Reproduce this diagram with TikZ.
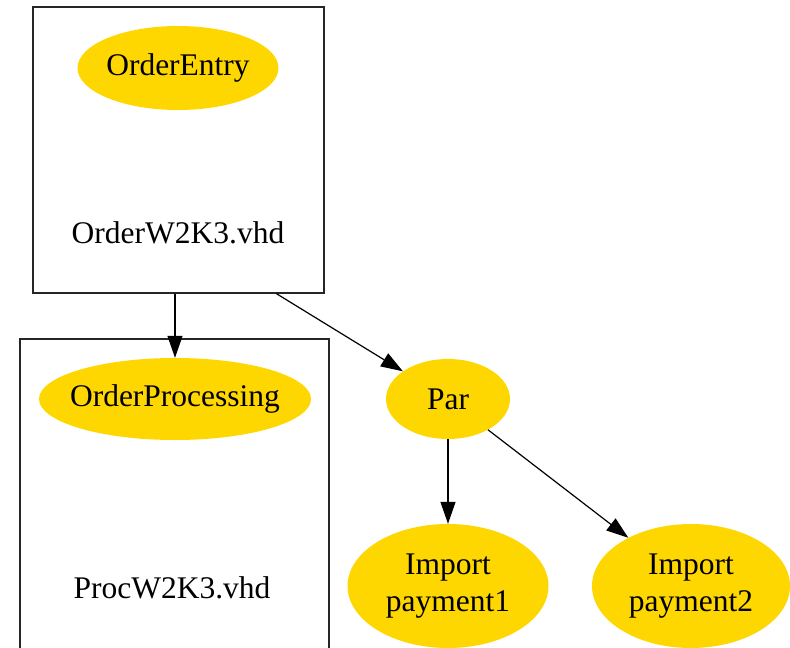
\documentclass[tikz,border=0pt]{standalone}
\usepackage{fontspec}
\setmainfont{Liberation Serif}
\usetikzlibrary{arrows.meta,shapes.geometric,calc}
\definecolor{gold}{HTML}{FFD700}
\begin{document}
\begin{tikzpicture}[x=1pt,y=-1pt,
  cluster/.style={draw=black!85,line width=1.3pt,inner sep=0pt,rectangle},
  task/.style={ellipse,fill=gold,inner xsep=-40pt,inner ysep=0pt,font=\fontsize{31.5}{37}\selectfont,align=center},
  lbl/.style={font=\fontsize{31.5}{37}\selectfont,anchor=base,inner sep=0pt},
  link/.style={line width=1.2pt,-{Triangle[length=22pt,width=15pt]}}]

\clip (0,0) rectangle (790,648);
\fill[white] (0,0) rectangle (790,648);

% clusters
\node[cluster,minimum width=291pt,minimum height=286pt] (box1) at (178.5,150) {};
\node[cluster,minimum width=309pt,minimum height=341pt] (box2) at (174.5,509.5) {};

% cluster labels
\node[lbl] (lbl1) at (178,243) {OrderW2K3.vhd};
\node[lbl] (lbl2) at (172,598) {ProcW2K3.vhd};

% tasks
\node[task,minimum width=201pt,minimum height=84pt] (entry) at (178,68) {OrderEntry};
\node[task,minimum width=272pt,minimum height=82pt] (proc) at (175,399) {OrderProcessing};
\node[task,minimum width=124pt,minimum height=80pt] (par) at (448,399) {Par};
\node[task,minimum width=201pt,minimum height=124pt] (pay1) at (448,586) {Import\\payment1};
\node[task,minimum width=198pt,minimum height=124pt] (pay2) at (691,586) {Import\\payment2};

% connectors
\coordinate (out1) at ($(box1.south west)!0.835!(box1.south east)$);
\draw[link] (box1.south -| proc.north) -- (proc.north);
\draw[link] (out1) -- (par);
\draw[link] (par) -- (pay1);
\draw[link] (par) -- (pay2);
\end{tikzpicture}
\end{document}
